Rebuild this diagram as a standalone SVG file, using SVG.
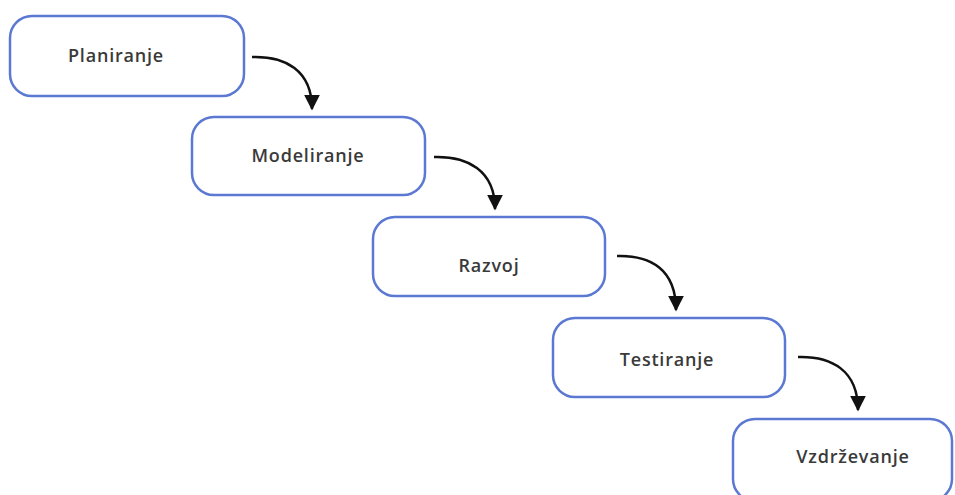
<svg xmlns="http://www.w3.org/2000/svg" width="955" height="495" viewBox="0 0 955 495">
<defs>
<style>
.box{fill:#fff;stroke:#5b78d2;stroke-width:2.5}
.lbl{font-family:"Open Sans","Liberation Sans",sans-serif;font-size:18px;font-weight:600;fill:#3a3a3a;text-anchor:middle;letter-spacing:0.8px}
.arr{fill:none;stroke:#111;stroke-width:2.5}
</style>
<marker id="ah" viewBox="0 0 10 10" refX="9" refY="5" markerWidth="6.4" markerHeight="6.4" orient="auto" markerUnits="strokeWidth">
<path d="M0,0 L10,5 L0,10 z" fill="#111"/>
</marker>
</defs>
<rect width="955" height="495" fill="#fff"/>
<g id="planiranje"><rect class="box" x="10" y="16" width="234" height="80" rx="22"/><text class="lbl" x="116" y="62">Planiranje</text></g>
<g id="modeliranje"><rect class="box" x="192" y="117" width="233" height="78" rx="22"/><text class="lbl" x="308" y="162">Modeliranje</text></g>
<g id="razvoj"><rect class="box" x="373" y="217" width="232" height="79" rx="22"/><text class="lbl" x="489" y="272">Razvoj</text></g>
<g id="testiranje"><rect class="box" x="553" y="318" width="232" height="79" rx="22"/><text class="lbl" x="667" y="366">Testiranje</text></g>
<g id="vzdrzevanje"><rect class="box" x="733" y="419" width="219" height="82" rx="22"/><text class="lbl" x="853" y="463">Vzdrževanje</text></g>
<g id="connectors">
<path class="arr" marker-end="url(#ah)" d="M252,57 C285,56 312,70 312,109"/>
<path class="arr" marker-end="url(#ah)" d="M434,157 C467,156 495,170 495,209"/>
<path class="arr" marker-end="url(#ah)" d="M617,256 C650,255 676,269 676,310"/>
<path class="arr" marker-end="url(#ah)" d="M798,357 C831,356 858,370 858,410"/>
</g>
</svg>
